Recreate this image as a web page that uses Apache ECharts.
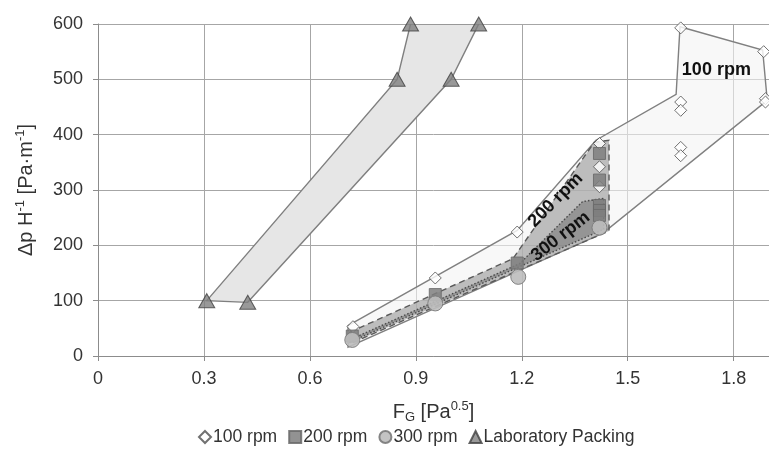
<!DOCTYPE html>
<html>
<head>
<meta charset="utf-8">
<script src="https://cdn.jsdelivr.net/npm/echarts@6/dist/echarts.min.js"></script>
<style>
html,body{margin:0;padding:0;background:#fff;}
#chart{width:769px;height:453px;}
</style>
</head>
<body>
<div id="chart"></div>
<script>
// ---- data ----
const seriesNames = ['100 rpm', '200 rpm', '300 rpm', 'Laboratory Packing'];

const rpm100X = [0.722, 0.955, 1.187, 1.42, 1.42, 1.42, 1.65, 1.65, 1.65, 1.65, 1.65, 1.885, 1.89, 1.89];
const rpm100Y = [53, 141, 224, 384, 342, 306, 593, 459, 444, 377, 362, 550, 465, 459];

const rpm200X = [0.72, 0.955, 1.187, 1.42, 1.42, 1.42, 1.42, 1.42];
const rpm200Y = [36, 111, 168, 366, 318, 272, 263, 254];

const rpm300X = [0.72, 0.955, 1.19, 1.42];
const rpm300Y = [29, 95, 143, 232];

const labX = [0.308, 0.424, 0.847, 0.885, 1.0, 1.078];
const labY = [100, 97, 500, 600, 500, 600];

// envelope outlines (data coordinates)
const labEnvelope = [[0.308,100],[0.847,500],[0.885,600],[1.078,600],[1.0,500],[0.424,97]];
const rpm100Envelope = [[0.708,55],[1.187,227],[1.41,390],[1.637,473],[1.648,595],[1.882,553],[1.895,462],[1.43,222],[0.708,16]];
const rpm200Envelope = [[0.713,43],[1.175,176],[1.405,386],[1.447,390],[1.447,226],[0.713,22]];
const rpm300Envelope = [[0.74,37],[1.194,167],[1.372,279],[1.432,285],[1.432,229],[0.72,27]];

const regionLabels = [
  {text: '100 rpm', x: 1.751, y: 517, angle: 0},
  {text: '200 rpm', x: 1.296, y: 282, angle: 45},
  {text: '300 rpm', x: 1.31, y: 216, angle: 38}
];

function pairs(xs, ys){ return xs.map((x,i)=>[x, ys[i]]); }

const FONT = '"Liberation Sans", Arial, sans-serif';

function polygonSeries(name, verts, fill, stroke, dash, z){
  return {
    type: 'custom',
    name: name,
    data: verts,
    z: z,
    silent: true,
    renderItem: function(params, api){
      if (params.dataIndex !== 0) return null;
      const pts = verts.map(v => api.coord(v));
      return {
        type: 'polygon',
        shape: {points: pts},
        style: {fill: fill, stroke: stroke, lineWidth: 1.4, lineDash: dash}
      };
    },
    clip: true
  };
}

const chart = echarts.init(document.getElementById('chart'));
const option = {
  animation: false,
  backgroundColor: '#fff',
  textStyle: {fontFamily: FONT},
  grid: {left: 98, right: 0, top: 24, bottom: 97},
  xAxis: {
    type: 'value', min: 0, max: 1.9, interval: 0.3,
    name: '{n|F}{sub|G}{n| [Pa}{sup|0.5}{n|]}',
    nameLocation: 'middle', nameGap: 44,
    nameTextStyle: {
      rich: {
        n: {fontSize: 20, color: '#333', fontFamily: FONT, lineHeight: 24, verticalAlign: 'middle'},
        sub: {fontSize: 13, color: '#333', fontFamily: FONT, verticalAlign: 'bottom', lineHeight: 24, padding: [7,0,0,0]},
        sup: {fontSize: 13, color: '#333', fontFamily: FONT, verticalAlign: 'top', lineHeight: 24, padding: [0,0,7,0]}
      }
    },
    axisLine: {show: true, onZero: false, lineStyle: {color: '#8c8c8c', width: 1}},
    axisTick: {show: true, length: 5, lineStyle: {color: '#8c8c8c'}},
    axisLabel: {fontSize: 18, color: '#333', margin: 14, fontFamily: FONT, showMaxLabel: false,
      formatter: v => (Math.round(v*10)/10 === 0 ? '0' : v.toFixed(1))},
    splitLine: {show: true, lineStyle: {color: '#a6a6a6', width: 1}}
  },
  yAxis: {
    type: 'value', min: 0, max: 600, interval: 100,
    name: '{n|Δp H}{sup|-1}{n| [Pa·m}{sup|-1}{n|]}',
    nameLocation: 'middle', nameGap: 60, nameRotate: 90,
    nameTextStyle: {
      rich: {
        n: {fontSize: 20, color: '#333', fontFamily: FONT, lineHeight: 24},
        sup: {fontSize: 13, color: '#333', fontFamily: FONT, verticalAlign: 'top', lineHeight: 24, padding: [0,0,7,0]}
      }
    },
    axisLine: {show: true, lineStyle: {color: '#8c8c8c', width: 1}},
    axisTick: {show: true, length: 5, lineStyle: {color: '#8c8c8c'}},
    axisLabel: {fontSize: 18, color: '#333', margin: 15, fontFamily: FONT},
    splitLine: {show: true, lineStyle: {color: '#a6a6a6', width: 1}}
  },
  legend: {
    data: seriesNames,
    bottom: 2, left: 193,
    itemWidth: 12, itemHeight: 12, itemGap: 11,
    textStyle: {fontSize: 17.5, color: '#333', fontFamily: FONT, padding: [0,0,0,-3]}
  },
  series: [
    polygonSeries('labEnv', labEnvelope, '#e6e6e6', '#7f7f7f', null, 1),
    polygonSeries('env100', rpm100Envelope, 'rgba(244,244,244,0.6)', '#808080', null, 2),
    polygonSeries('env200', rpm200Envelope, 'rgba(150,150,150,0.6)', '#5a5a5a', [6,4], 3),
    polygonSeries('env300', rpm300Envelope, 'rgba(110,110,110,0.5)', '#4a4a4a', [1.5,2], 4),
    {
      type: 'scatter', name: '100 rpm', data: pairs(rpm100X, rpm100Y), z: 5,
      symbol: 'diamond', symbolSize: 12,
      itemStyle: {color: '#ffffff', borderColor: '#4d4d4d', borderWidth: 1}
    },
    {
      type: 'scatter', name: '200 rpm', data: pairs(rpm200X, rpm200Y), z: 5,
      symbol: 'rect', symbolSize: 12,
      itemStyle: {color: '#7f7f7f', borderColor: '#6a6a6a', borderWidth: 1, opacity: 0.85}
    },
    {
      type: 'scatter', name: '300 rpm', data: pairs(rpm300X, rpm300Y), z: 5,
      symbol: 'circle', symbolSize: 15,
      itemStyle: {color: '#bdbdbd', borderColor: '#7a7a7a', borderWidth: 1, opacity: 0.9}
    },
    {
      type: 'scatter', name: 'Laboratory Packing', data: pairs(labX, labY), z: 6,
      symbol: 'triangle', symbolSize: [16, 14],
      itemStyle: {color: '#7f7f7f', borderColor: '#3f3f3f', borderWidth: 1}
    },
    {
      type: 'custom', name: 'regionLabels', z: 10, silent: true,
      data: regionLabels.map(l => [l.x, l.y]),
      renderItem: function(params, api){
        const l = regionLabels[params.dataIndex];
        const p = api.coord([api.value(0), api.value(1)]);
        return {
          type: 'text', x: p[0], y: p[1], rotation: l.angle * Math.PI / 180,
          style: {text: l.text, fill: '#111', font: 'bold 18px ' + FONT, align: 'center', verticalAlign: 'middle'}
        };
      }
    }
  ]
};
chart.setOption(option);
</script>
</body>
</html>
